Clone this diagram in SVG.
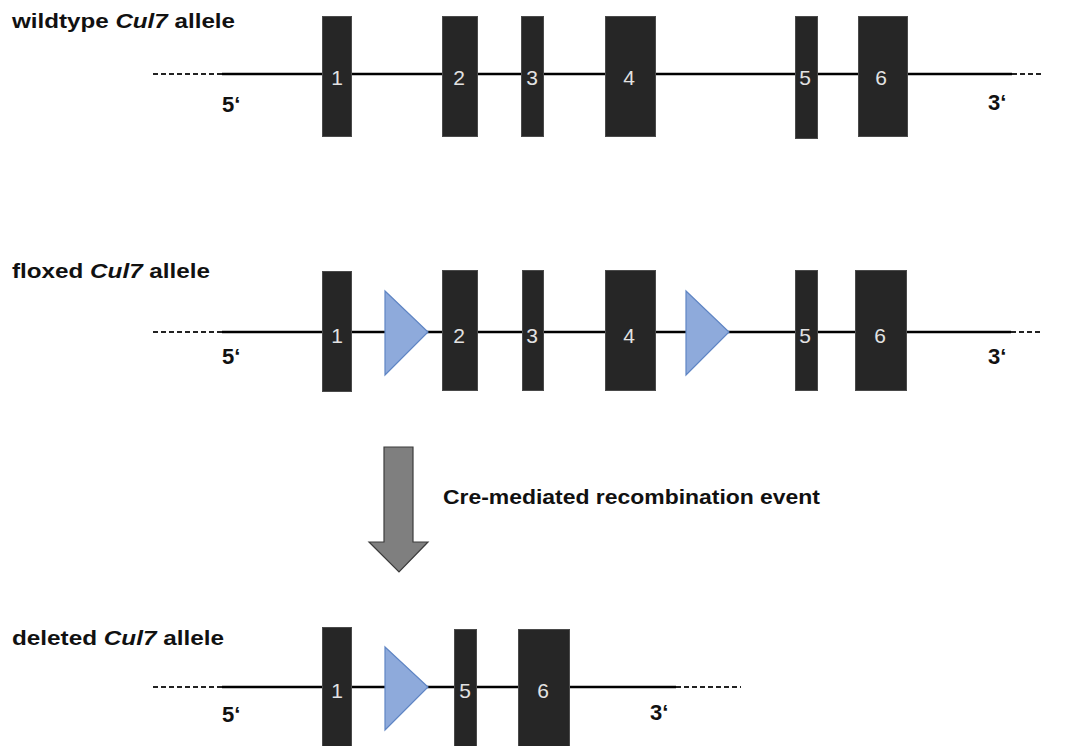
<svg xmlns="http://www.w3.org/2000/svg" width="1070" height="746" viewBox="0 0 1070 746">
  <style>
    .title { font-family: "Liberation Sans", Arial, sans-serif; font-weight: bold; font-size: 21px; fill: #111; }
    .end { font-family: "Liberation Sans", Arial, sans-serif; font-weight: bold; font-size: 22px; fill: #111; }
    .exon { fill: #262626; stroke: #4a4a4a; stroke-width: 1; }
    .num { font-family: "Liberation Sans", Arial, sans-serif; font-size: 21px; fill: #e2e2e2; text-anchor: middle; }
    .lox { fill: #8eaadb; stroke: #5f85c4; stroke-width: 1.2; }
    .dna { stroke: #000; stroke-width: 2.6; fill: none; }
    .dash { stroke: #222; stroke-width: 1.8; stroke-dasharray: 5 3; fill: none; }
    .label { font-family: "Liberation Sans", Arial, sans-serif; font-weight: bold; font-size: 20px; fill: #111; }
  </style>
  <rect width="1070" height="746" fill="#fff"/>

  <!-- titles -->
  <text id="title-wt" class="title" x="12" y="28" textLength="223" lengthAdjust="spacingAndGlyphs">wildtype <tspan font-style="italic">Cul7</tspan> allele</text>
  <text id="title-flox" class="title" x="12" y="278" textLength="198" lengthAdjust="spacingAndGlyphs">floxed <tspan font-style="italic">Cul7</tspan> allele</text>
  <text id="title-del" class="title" x="12" y="645" textLength="212" lengthAdjust="spacingAndGlyphs">deleted <tspan font-style="italic">Cul7</tspan> allele</text>

  <!-- connectors: DNA backbones -->
  <g id="connectors">
    <line class="dash" x1="153" y1="74" x2="222" y2="74"/>
    <line class="dna" x1="222" y1="74" x2="1012" y2="74"/>
    <line class="dash" x1="1012" y1="74" x2="1042" y2="74"/>

    <line class="dash" x1="153" y1="332" x2="222" y2="332"/>
    <line class="dna" x1="222" y1="332" x2="1011" y2="332"/>
    <line class="dash" x1="1011" y1="332" x2="1042" y2="332"/>

    <line class="dash" x1="153" y1="687" x2="222" y2="687"/>
    <line class="dna" x1="222" y1="687" x2="676" y2="687"/>
    <line class="dash" x1="676" y1="687" x2="741" y2="687"/>
  </g>

  <!-- end labels -->
  <text class="end" x="222" y="112">5‘</text>
  <text class="end" x="988" y="110">3‘</text>
  <text class="end" x="222" y="364">5‘</text>
  <text class="end" x="988" y="364">3‘</text>
  <text class="end" x="222" y="722">5‘</text>
  <text class="end" x="650" y="720">3‘</text>

  <!-- Row 1: wildtype -->
  <g id="wt-exon1"><rect class="exon" x="322.5" y="16.5" width="29" height="120"/><text class="num" x="337" y="85">1</text></g>
  <g id="wt-exon2"><rect class="exon" x="442.5" y="16.5" width="35" height="120"/><text class="num" x="459" y="85">2</text></g>
  <g id="wt-exon3"><rect class="exon" x="521.5" y="16.5" width="22" height="120"/><text class="num" x="532" y="85">3</text></g>
  <g id="wt-exon4"><rect class="exon" x="605.5" y="16.5" width="50" height="120"/><text class="num" x="629" y="85">4</text></g>
  <g id="wt-exon5"><rect class="exon" x="795.5" y="16.5" width="22" height="122"/><text class="num" x="805" y="85">5</text></g>
  <g id="wt-exon6"><rect class="exon" x="858.5" y="16.5" width="49" height="120"/><text class="num" x="881" y="85">6</text></g>

  <!-- Row 2: floxed -->
  <g id="fl-exon1"><rect class="exon" x="322.5" y="271.5" width="29" height="120"/><text class="num" x="337" y="343">1</text></g>
  <g id="fl-lox1"><polygon class="lox" points="385,291 428,332 385,375"/></g>
  <g id="fl-exon2"><rect class="exon" x="442.5" y="270.5" width="35" height="120"/><text class="num" x="459" y="343">2</text></g>
  <g id="fl-exon3"><rect class="exon" x="522.5" y="270.5" width="21" height="120"/><text class="num" x="532" y="343">3</text></g>
  <g id="fl-exon4"><rect class="exon" x="605.5" y="270.5" width="50" height="120"/><text class="num" x="629" y="343">4</text></g>
  <g id="fl-lox2"><polygon class="lox" points="686,291 729,332 686,375"/></g>
  <g id="fl-exon5"><rect class="exon" x="795.5" y="270.5" width="22" height="120"/><text class="num" x="805" y="343">5</text></g>
  <g id="fl-exon6"><rect class="exon" x="855.5" y="270.5" width="51" height="120"/><text class="num" x="880" y="343">6</text></g>

  <!-- Recombination arrow -->
  <g id="cre-arrow">
    <polygon points="384,447 413,447 413,542 428,542 399,572 369,542 384,542" fill="#7f7f7f" stroke="#3c3c3c" stroke-width="1.2"/>
  </g>
  <text id="cre-label" class="label" x="443" y="504" textLength="377" lengthAdjust="spacingAndGlyphs">Cre-mediated recombination event</text>

  <!-- Row 3: deleted -->
  <g id="del-exon1"><rect class="exon" x="322.5" y="627.5" width="29" height="122"/><text class="num" x="337" y="698">1</text></g>
  <g id="del-lox"><polygon class="lox" points="385,647 428,687 385,730"/></g>
  <g id="del-exon5"><rect class="exon" x="454.5" y="629.5" width="22" height="120"/><text class="num" x="465" y="698">5</text></g>
  <g id="del-exon6"><rect class="exon" x="518.5" y="629.5" width="51" height="120"/><text class="num" x="543" y="698">6</text></g>
</svg>
